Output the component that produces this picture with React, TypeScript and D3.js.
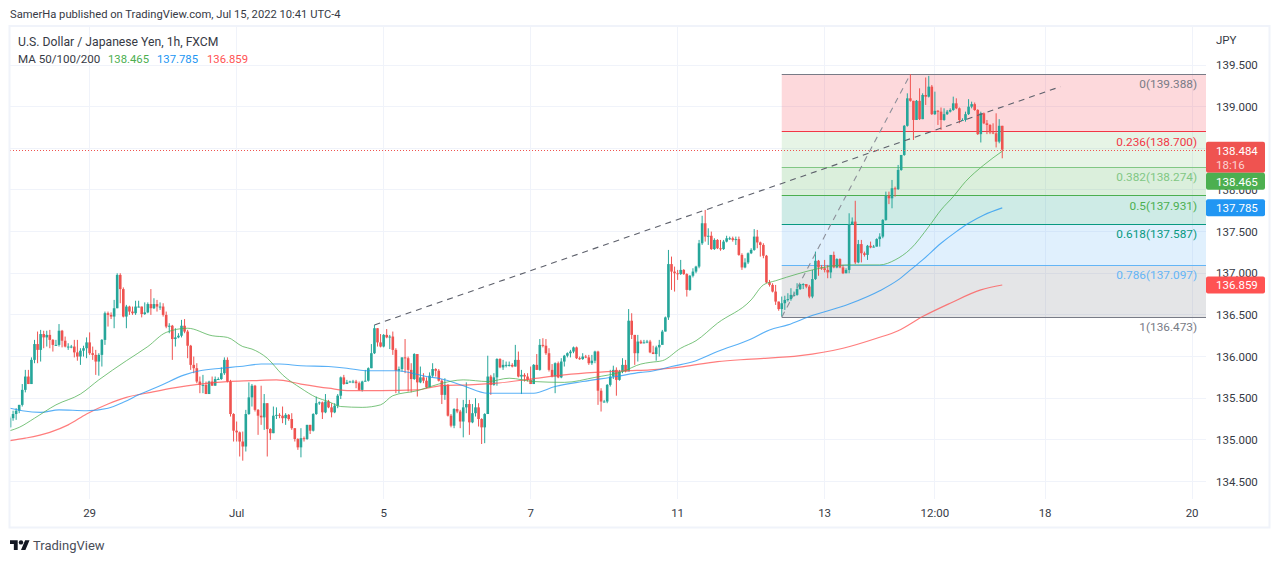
import React, { useEffect, useRef } from 'react';
import * as d3 from 'd3';

const FIRST_OPEN = 135.15;

// hourly closes, one per bar; each bar opens at the previous close
const closes = [
  135.26, 135.31, 135.35, 135.42, 135.60, 135.76, 135.67, 135.96, 136.15, 136.08,
  136.27, 136.23, 136.26, 136.20, 136.14, 136.14, 136.31, 136.19, 136.12, 136.12,
  136.12, 136.05, 136.00, 136.07, 136.10, 136.17, 136.04, 136.02, 135.94, 136.02,
  136.20, 136.52, 136.50, 136.48, 136.58, 136.98, 136.81, 136.48, 136.60, 136.54,
  136.52, 136.60, 136.60, 136.51, 136.53, 136.63, 136.58, 136.63, 136.60, 136.60,
  136.50, 136.36, 136.37, 136.21, 136.23, 136.25, 136.37, 136.30, 136.13, 135.90,
  135.86, 135.70, 135.66, 135.66, 135.55, 135.70, 135.65, 135.73, 135.73, 135.80,
  135.96, 135.70, 135.31, 135.11, 135.09, 134.98, 134.92, 135.31, 135.51, 135.65,
  135.36, 135.29, 135.27, 135.44, 135.13, 135.08, 135.29, 135.30, 135.29, 135.26,
  135.30, 135.25, 135.14, 135.01, 134.91, 135.02, 135.01, 135.18, 135.11, 135.31,
  135.44, 135.45, 135.33, 135.46, 135.39, 135.33, 135.41, 135.53, 135.75, 135.67,
  135.69, 135.70, 135.70, 135.68, 135.60, 135.70, 135.71, 135.86, 136.04, 136.34,
  136.17, 136.12, 136.26, 136.23, 136.24, 136.08, 135.83, 135.85, 135.99, 135.98,
  135.84, 135.73, 136.03, 135.69, 135.75, 135.71, 135.63, 135.77, 135.85, 135.83,
  135.71, 135.54, 135.66, 135.29, 135.17, 135.37, 135.34, 135.22, 135.39, 135.43,
  135.21, 135.32, 135.39, 135.25, 135.15, 135.31, 135.76, 135.66, 135.75, 135.97,
  135.87, 135.90, 135.90, 135.90, 135.88, 135.96, 135.76, 135.78, 135.76, 135.72,
  135.67, 135.90, 135.84, 136.14, 136.13, 136.04, 135.84, 135.76, 135.92, 135.75,
  135.94, 136.01, 136.04, 136.06, 136.11, 135.98, 135.97, 136.00, 135.99, 135.92,
  135.95, 136.06, 135.59, 135.46, 135.46, 135.66, 135.76, 135.84, 135.72, 135.82,
  135.90, 135.82, 136.43, 136.26, 136.04, 136.18, 136.16, 136.17, 136.18, 136.05,
  136.03, 136.11, 136.14, 136.30, 136.47, 137.11, 137.02, 137.00, 136.99, 137.04,
  136.99, 136.80, 136.97, 137.02, 137.08, 137.36, 137.60, 137.44, 137.45, 137.29,
  137.40, 137.30, 137.29, 137.38, 137.42, 137.42, 137.40, 137.41, 137.22, 137.07,
  137.13, 137.24, 137.28, 137.44, 137.37, 137.34, 137.21, 136.89, 136.86, 136.78,
  136.66, 136.57, 136.64, 136.68, 136.69, 136.74, 136.74, 136.81, 136.87, 136.87,
  136.84, 136.72, 136.93, 137.15, 137.07, 137.06, 137.04, 137.01, 137.22, 137.07,
  137.17, 137.07, 137.00, 137.04, 137.59, 137.62, 137.13, 137.35, 137.24, 137.22,
  137.33, 137.31, 137.32, 137.41, 137.44, 137.64, 137.93, 137.90, 138.02, 138.01,
  138.24, 138.42, 138.77, 139.10, 139.07, 138.84, 139.07, 138.85, 139.14, 139.12,
  139.24, 138.91, 138.95, 138.94, 138.84, 138.91, 138.94, 138.96, 139.04, 138.98,
  138.84, 138.84, 138.91, 139.00, 139.03, 138.96, 138.67, 138.92, 138.80, 138.78,
  138.69, 138.68, 138.58, 138.77, 138.484,
];

const highs = [
  135.28, 135.35, 135.38, 135.42, 135.67, 135.84, 135.84, 135.99, 136.20, 136.30,
  136.32, 136.31, 136.31, 136.32, 136.21, 136.20, 136.39, 136.32, 136.24, 136.16,
  136.14, 136.20, 136.20, 136.10, 136.13, 136.23, 136.29, 136.12, 136.08, 136.04,
  136.21, 136.54, 136.54, 136.53, 136.68, 137.00, 137.00, 136.83, 136.62, 136.61,
  136.60, 136.67, 136.67, 136.60, 136.65, 136.65, 136.81, 136.70, 136.68, 136.65,
  136.64, 136.54, 136.40, 136.38, 136.34, 136.28, 136.44, 136.45, 136.32, 136.14,
  136.00, 135.92, 135.76, 135.78, 135.70, 135.71, 135.76, 135.76, 135.75, 135.87,
  135.99, 135.99, 135.72, 135.32, 135.22, 135.10, 135.10, 135.36, 135.69, 135.67,
  135.66, 135.37, 135.65, 135.55, 135.44, 135.14, 135.40, 135.39, 135.32, 135.40,
  135.32, 135.31, 135.32, 135.14, 135.02, 135.14, 135.04, 135.18, 135.18, 135.32,
  135.52, 135.46, 135.46, 135.55, 135.48, 135.44, 135.44, 135.55, 135.76, 135.78,
  135.72, 135.71, 135.72, 135.72, 135.70, 135.71, 135.84, 135.87, 136.15, 136.38,
  136.34, 136.27, 136.27, 136.33, 136.26, 136.30, 136.10, 135.88, 135.99, 136.21,
  136.00, 135.92, 136.04, 136.03, 135.88, 135.80, 135.75, 135.81, 135.92, 135.86,
  135.85, 135.73, 135.74, 135.67, 135.31, 135.38, 135.50, 135.36, 135.48, 135.69,
  135.48, 135.43, 135.50, 135.44, 135.26, 135.32, 136.01, 135.78, 135.80, 135.98,
  135.98, 135.96, 135.94, 135.94, 135.92, 136.14, 136.06, 135.84, 135.80, 135.80,
  135.88, 135.91, 136.03, 136.21, 136.22, 136.21, 136.10, 135.91, 135.93, 135.94,
  135.98, 136.02, 136.05, 136.08, 136.12, 136.12, 136.00, 136.04, 136.02, 136.02,
  136.02, 136.07, 136.07, 135.62, 135.48, 135.67, 135.84, 135.89, 135.87, 135.84,
  135.98, 135.96, 136.57, 136.52, 136.26, 136.26, 136.20, 136.20, 136.20, 136.20,
  136.13, 136.13, 136.20, 136.32, 136.48, 137.28, 137.20, 137.08, 137.04, 137.16,
  137.05, 137.00, 136.98, 137.06, 137.09, 137.40, 137.69, 137.76, 137.54, 137.50,
  137.42, 137.41, 137.40, 137.40, 137.45, 137.44, 137.44, 137.44, 137.44, 137.24,
  137.18, 137.25, 137.30, 137.53, 137.52, 137.38, 137.36, 137.22, 136.92, 136.88,
  136.86, 136.66, 136.72, 136.73, 136.76, 136.82, 136.78, 136.88, 136.87, 136.88,
  136.87, 136.86, 137.04, 137.26, 137.16, 137.10, 137.16, 137.10, 137.22, 137.26,
  137.18, 137.18, 137.10, 137.06, 137.72, 137.67, 137.87, 137.40, 137.40, 137.26,
  137.34, 137.38, 137.34, 137.42, 137.48, 137.65, 137.98, 137.98, 138.12, 138.04,
  138.30, 138.42, 138.78, 139.16, 139.39, 139.07, 139.08, 139.22, 139.16, 139.35,
  139.37, 139.26, 139.18, 138.96, 138.99, 138.98, 138.96, 138.98, 139.12, 139.10,
  138.99, 138.86, 138.94, 139.09, 139.06, 139.05, 138.97, 138.94, 138.93, 138.84,
  138.79, 138.80, 138.92, 138.85, 138.77,
];

const lows = [
  135.15, 135.23, 135.24, 135.32, 135.40, 135.57, 135.67, 135.67, 135.92, 135.92,
  135.94, 136.10, 136.12, 136.10, 136.06, 136.13, 136.12, 136.11, 136.11, 136.08,
  136.10, 135.99, 135.95, 135.90, 136.00, 135.98, 136.02, 135.96, 135.78, 135.77,
  135.88, 136.14, 136.36, 136.45, 136.34, 136.58, 136.64, 136.47, 136.34, 136.50,
  136.50, 136.50, 136.59, 136.47, 136.50, 136.52, 136.50, 136.57, 136.54, 136.56,
  136.48, 136.34, 136.28, 135.96, 136.12, 136.22, 136.23, 136.28, 135.98, 135.84,
  135.80, 135.68, 135.56, 135.56, 135.55, 135.55, 135.65, 135.65, 135.72, 135.72,
  135.78, 135.69, 135.28, 134.98, 134.98, 134.80, 134.75, 134.86, 135.30, 135.40,
  135.34, 135.06, 135.18, 135.12, 134.80, 135.00, 135.08, 135.25, 135.26, 135.20,
  135.18, 135.23, 135.12, 134.98, 134.88, 134.79, 134.98, 135.00, 135.07, 135.10,
  135.30, 135.42, 135.25, 135.32, 135.38, 135.27, 135.32, 135.38, 135.49, 135.66,
  135.67, 135.69, 135.68, 135.62, 135.59, 135.58, 135.70, 135.70, 135.86, 136.03,
  136.12, 136.11, 136.11, 136.22, 136.09, 136.02, 135.56, 135.56, 135.82, 135.80,
  135.58, 135.57, 135.72, 135.52, 135.68, 135.68, 135.62, 135.63, 135.75, 135.76,
  135.70, 135.43, 135.48, 135.28, 135.15, 135.14, 135.32, 135.14, 135.03, 135.32,
  135.06, 135.20, 135.28, 135.16, 134.95, 134.96, 135.31, 135.54, 135.65, 135.65,
  135.86, 135.84, 135.87, 135.88, 135.87, 135.88, 135.75, 135.55, 135.70, 135.70,
  135.67, 135.67, 135.84, 135.83, 136.11, 136.02, 135.82, 135.75, 135.56, 135.74,
  135.74, 135.88, 135.99, 135.99, 136.04, 135.97, 135.96, 135.96, 135.98, 135.90,
  135.90, 135.92, 135.42, 135.34, 135.45, 135.44, 135.64, 135.73, 135.53, 135.71,
  135.80, 135.81, 135.83, 136.21, 135.90, 135.94, 136.15, 136.16, 136.16, 136.04,
  136.03, 135.95, 136.00, 136.20, 136.30, 136.44, 136.80, 136.78, 136.92, 136.98,
  136.98, 136.72, 136.79, 136.95, 137.00, 137.06, 137.34, 137.38, 137.34, 137.28,
  137.28, 137.29, 137.27, 137.28, 137.37, 137.40, 137.38, 137.34, 137.21, 137.04,
  137.06, 137.11, 137.23, 137.27, 137.30, 137.20, 137.18, 136.88, 136.84, 136.77,
  136.62, 136.55, 136.48, 136.56, 136.66, 136.67, 136.72, 136.73, 136.80, 136.81,
  136.82, 136.70, 136.70, 136.92, 136.97, 137.04, 137.01, 136.94, 136.94, 137.06,
  137.06, 137.06, 136.99, 137.00, 137.00, 137.58, 137.11, 137.12, 137.13, 137.20,
  137.16, 137.30, 137.31, 137.32, 137.32, 137.42, 137.63, 137.83, 137.78, 137.92,
  138.00, 138.23, 138.41, 138.76, 139.06, 138.60, 138.84, 138.84, 138.85, 139.02,
  139.11, 138.90, 138.90, 138.78, 138.72, 138.83, 138.90, 138.93, 138.95, 138.97,
  138.80, 138.83, 138.82, 138.90, 138.98, 138.95, 138.66, 138.57, 138.79, 138.67,
  138.67, 138.67, 138.51, 138.56, 138.38,
];

const ma50Bars = [0, 3, 8, 15, 23, 29, 38, 45, 51, 58, 66, 71, 76, 79, 84, 89, 95, 100, 104, 108, 115, 121, 125, 133, 140, 148, 156, 163, 171, 181, 191, 200, 206, 209, 213, 219, 224, 231, 242, 246, 250, 257, 262, 273, 284, 289, 294, 300, 304, 308, 312, 318, 324];
const ma50Values = [135.11, 135.15, 135.26, 135.42, 135.55, 135.72, 135.95, 136.12, 136.29, 136.34, 136.25, 136.23, 136.12, 136.09, 135.98, 135.78, 135.62, 135.51, 135.46, 135.40, 135.39, 135.42, 135.53, 135.59, 135.67, 135.72, 135.70, 135.74, 135.70, 135.69, 135.75, 135.82, 135.91, 135.93, 135.95, 136.10, 136.19, 136.40, 136.68, 136.86, 136.91, 136.99, 137.04, 137.10, 137.10, 137.16, 137.29, 137.56, 137.76, 137.92, 138.10, 138.30, 138.465];

const ma100Bars = [0, 4, 10, 16, 25, 32, 37, 42, 49, 57, 62, 69, 75, 82, 88, 95, 104, 110, 116, 126, 136, 141, 148, 156, 162, 171, 178, 187, 198, 206, 209, 216, 224, 231, 242, 248, 254, 261, 274, 284, 290, 294, 298, 304, 309, 313, 318, 324];
const ma100Values = [135.38, 135.35, 135.33, 135.36, 135.35, 135.38, 135.45, 135.54, 135.65, 135.78, 135.83, 135.86, 135.88, 135.91, 135.91, 135.89, 135.88, 135.86, 135.83, 135.83, 135.76, 135.73, 135.65, 135.56, 135.56, 135.56, 135.64, 135.70, 135.76, 135.81, 135.82, 135.88, 135.95, 136.06, 136.21, 136.32, 136.38, 136.48, 136.63, 136.79, 136.92, 137.04, 137.16, 137.36, 137.50, 137.60, 137.70, 137.785];

const ma200Bars = [0, 5, 13, 19, 25, 32, 38, 46, 53, 62, 71, 79, 87, 95, 104, 111, 121, 133, 141, 150, 159, 170, 181, 191, 202, 209, 220, 231, 242, 258, 272, 283, 290, 298, 307, 317, 324];
const ma200Values = [134.99, 135.02, 135.09, 135.18, 135.31, 135.43, 135.51, 135.57, 135.62, 135.67, 135.70, 135.71, 135.72, 135.67, 135.62, 135.59, 135.59, 135.60, 135.65, 135.66, 135.68, 135.73, 135.78, 135.81, 135.83, 135.84, 135.88, 135.94, 135.97, 136.01, 136.10, 136.22, 136.31, 136.48, 136.64, 136.80, 136.859];

const priceTicks = [134.5, 135, 135.5, 136, 136.5, 137, 137.5, 138, 138.5, 139, 139.5];
const timeTickBars = [26, 74, 122, 170, 218, 266, 302, 338, 386];
const timeTickLabels = ['29', 'Jul', '5', '7', '11', '13', '12:00', '18', '20'];

const fibRatios = ['0', '0.236', '0.382', '0.5', '0.618', '0.786', '1'];
const fibPrices = [139.388, 138.7, 138.274, 137.931, 137.587, 137.097, 136.473];
const fibLineColors = ['#787b86', '#f23645', '#81c784', '#4caf50', '#089981', '#64b5f6', '#787b86'];
const fibZoneColors = ['#f23645', '#81c784', '#4caf50', '#089981', '#64b5f6', '#787b86'];
const fibStartBar = 252;
const fibTrend = [[252, 136.473], [294, 139.388]];
const longTrend = [[119, 136.38], [343, 139.24]];

const lastPrice = 138.484;
const countdown = '18:16';
const maValues = [138.465, 137.785, 136.859];
const maColors = ['#4caf50', '#2196f3', '#ff5252'];

const UP = '#26a69a';
const DOWN = '#ef5350';
const GRID = '#f0f3fa';
const TEXT = '#363a45';
const FONT = 'Roboto, sans-serif';

const snap = (v: number) => Math.floor(v) + 0.5;

const App: React.FC = () => {
  const svgRef = useRef<SVGSVGElement>(null);

  useEffect(() => {
    if (!svgRef.current) {
      return;
    }
    const svg = d3.select(svgRef.current);
    svg.selectAll('*').remove();

    const width = 1280;
    const height = 563;
    const pane = { left: 10, right: 1206, top: 27, bottom: 499 };

    const x = d3.scaleLinear().domain([0, 100]).range([10, 316.25]);
    const y = d3.scaleLinear().domain([134.5, 139.5]).range([481.5, 65]);

    svg.append('rect').attr('width', width).attr('height', height).attr('fill', '#ffffff');

    svg.append('defs').append('clipPath').attr('id', 'pane')
      .append('rect')
      .attr('x', pane.left)
      .attr('y', pane.top)
      .attr('width', pane.right - pane.left)
      .attr('height', pane.bottom - pane.top);

    const chart = svg.append('g').attr('clip-path', 'url(#pane)');

    // grid
    chart.selectAll('.hgrid').data(priceTicks).enter().append('line')
      .attr('x1', pane.left).attr('x2', pane.right)
      .attr('y1', (d) => snap(y(d))).attr('y2', (d) => snap(y(d)))
      .attr('stroke', GRID).attr('stroke-width', 1);
    chart.selectAll('.vgrid').data(timeTickBars).enter().append('line')
      .attr('x1', (d) => snap(x(d))).attr('x2', (d) => snap(x(d)))
      .attr('y1', pane.top).attr('y2', pane.bottom)
      .attr('stroke', GRID).attr('stroke-width', 1);

    // fib zones and levels
    const fibLeft = x(fibStartBar);
    fibZoneColors.forEach((color, i) => {
      chart.append('rect')
        .attr('x', fibLeft)
        .attr('y', y(fibPrices[i]))
        .attr('width', pane.right - fibLeft)
        .attr('height', y(fibPrices[i + 1]) - y(fibPrices[i]))
        .attr('fill', color)
        .attr('fill-opacity', i === 0 ? 0.19 : 0.2);
    });
    fibPrices.forEach((price, i) => {
      chart.append('line')
        .attr('x1', fibLeft).attr('x2', pane.right)
        .attr('y1', snap(y(price))).attr('y2', snap(y(price)))
        .attr('stroke', fibLineColors[i]).attr('stroke-width', 1);
    });

    // candles
    const opens = closes.map((_, i) => (i === 0 ? FIRST_OPEN : closes[i - 1]));
    const candles = chart.selectAll('.candle').data(closes).enter().append('g');
    candles.append('line')
      .attr('x1', (_, i) => x(i)).attr('x2', (_, i) => x(i))
      .attr('y1', (_, i) => y(highs[i])).attr('y2', (_, i) => y(lows[i]))
      .attr('stroke', (d, i) => (d >= opens[i] ? UP : DOWN))
      .attr('stroke-width', 1);
    candles.append('rect')
      .attr('x', (_, i) => x(i) - 1.3)
      .attr('width', 2.6)
      .attr('y', (d, i) => y(Math.max(d, opens[i])))
      .attr('height', (d, i) => Math.max(1, Math.abs(y(d) - y(opens[i]))))
      .attr('fill', (d, i) => (d >= opens[i] ? UP : DOWN));

    // moving averages
    const maLine = d3.line<[number, number]>()
      .x((d) => x(d[0]))
      .y((d) => y(d[1]))
      .curve(d3.curveMonotoneX);
    [[ma200Bars, ma200Values, 2, 1.2], [ma100Bars, ma100Values, 1, 1.1], [ma50Bars, ma50Values, 0, 1]].forEach((s: any) => {
      const points = s[0].map((bar: number, i: number) => [bar, s[1][i]]);
      chart.append('path')
        .attr('d', maLine(points))
        .attr('fill', 'none')
        .attr('stroke', maColors[s[2]])
        .attr('stroke-opacity', 0.75)
        .attr('stroke-width', s[3]);
    });

    // dashed trend lines
    const trendLine = d3.line<number[]>().x((d) => x(d[0])).y((d) => y(d[1]));
    chart.append('path')
      .attr('d', trendLine(longTrend))
      .attr('fill', 'none')
      .attr('stroke', '#5d606b')
      .attr('stroke-width', 1.1)
      .attr('stroke-dasharray', '6 5');
    chart.append('path')
      .attr('d', trendLine(fibTrend))
      .attr('fill', 'none')
      .attr('stroke', '#8c8f99')
      .attr('stroke-width', 1.1)
      .attr('stroke-dasharray', '6 5');

    // last price line
    chart.append('line')
      .attr('x1', pane.left).attr('x2', pane.right)
      .attr('y1', snap(y(lastPrice)) + 1).attr('y2', snap(y(lastPrice)) + 1)
      .attr('stroke', DOWN)
      .attr('stroke-width', 1)
      .attr('stroke-dasharray', '1 2');

    // fib labels
    fibPrices.forEach((price, i) => {
      svg.append('text')
        .attr('x', 1197)
        .attr('y', y(price) + 14)
        .attr('text-anchor', 'end')
        .attr('font-family', FONT)
        .attr('font-size', 11.8)
        .attr('fill', fibLineColors[i])
        .text(`${fibRatios[i]}(${price.toFixed(3)})`);
    });

    // frame
    svg.append('path')
      .attr('d', 'M9.5 26H1269.5V527.5H9.5Z')
      .attr('fill', 'none')
      .attr('stroke', GRID)
      .attr('stroke-width', 2);

    // axes labels
    svg.selectAll('.ptick').data(priceTicks).enter().append('text')
      .attr('x', 1216)
      .attr('y', (d) => y(d) + 4)
      .attr('font-family', FONT)
      .attr('font-size', 11.5)
      .attr('fill', TEXT)
      .text((d) => d.toFixed(3));
    svg.selectAll('.ttick').data(timeTickBars).enter().append('text')
      .attr('x', (d) => x(d))
      .attr('y', 517)
      .attr('text-anchor', 'middle')
      .attr('font-family', FONT)
      .attr('font-size', 11.5)
      .attr('fill', TEXT)
      .text((_, i) => timeTickLabels[i]);
    svg.append('text')
      .attr('x', 1216).attr('y', 44)
      .attr('font-family', FONT).attr('font-size', 11.5).attr('fill', TEXT)
      .text('JPY');

    // price tags
    const tag = (price: number, color: string, top: number, tall: boolean) => {
      svg.append('rect')
        .attr('x', 1206).attr('y', top)
        .attr('width', 59).attr('height', tall ? 31 : 17)
        .attr('rx', 2)
        .attr('fill', color);
      svg.append('text')
        .attr('x', 1216).attr('y', top + 13)
        .attr('font-family', FONT).attr('font-size', 11.5).attr('fill', '#ffffff')
        .text(price.toFixed(3));
      if (tall) {
        svg.append('text')
          .attr('x', 1216).attr('y', top + 27)
          .attr('font-family', FONT).attr('font-size', 11.5).attr('fill', '#ffffff')
          .attr('fill-opacity', 0.75)
          .text(countdown);
      }
    };
    const lastTop = y(lastPrice) - 8;
    tag(lastPrice, DOWN, lastTop, true);
    tag(maValues[0], maColors[0], lastTop + 31, false);
    tag(maValues[1], maColors[1], y(maValues[1]) - 8.5, false);
    tag(maValues[2], maColors[2], y(maValues[2]) - 8.5, false);

    // header and legend
    svg.append('text')
      .attr('x', 10).attr('y', 18)
      .attr('font-family', FONT).attr('font-size', 11.2).attr('fill', TEXT)
      .text('SamerHa published on TradingView.com, Jul 15, 2022 10:41 UTC-4');
    svg.append('text')
      .attr('x', 18).attr('y', 46)
      .attr('font-family', FONT).attr('font-size', 12.2).attr('fill', TEXT)
      .text('U.S. Dollar / Japanese Yen, 1h, FXCM');
    svg.append('text')
      .attr('x', 18).attr('y', 63)
      .attr('font-family', FONT).attr('font-size', 11.6).attr('fill', TEXT)
      .text('MA 50/100/200');
    [108, 157, 207].forEach((left, i) => {
      svg.append('text')
        .attr('x', left).attr('y', 63)
        .attr('font-family', FONT).attr('font-size', 11.3).attr('fill', maColors[i])
        .text(maValues[i].toFixed(3));
    });

    // logo
    const logo = svg.append('g').attr('transform', 'translate(10, 538) scale(0.55)').attr('fill', '#131722');
    logo.append('path').attr('d', 'M14 22H7V11H0V4h14v18zM28 22h-8l7.5-18h8L28 22z');
    logo.append('circle').attr('cx', 20).attr('cy', 8).attr('r', 4);
    svg.append('text')
      .attr('x', 33).attr('y', 550)
      .attr('font-family', FONT).attr('font-size', 13).attr('fill', '#4a4e59')
      .text('TradingView');
  }, []);

  return <svg ref={svgRef} width={1280} height={563} style={{ position: 'fixed', left: 0, top: 0 }} />;
};

export default App;
